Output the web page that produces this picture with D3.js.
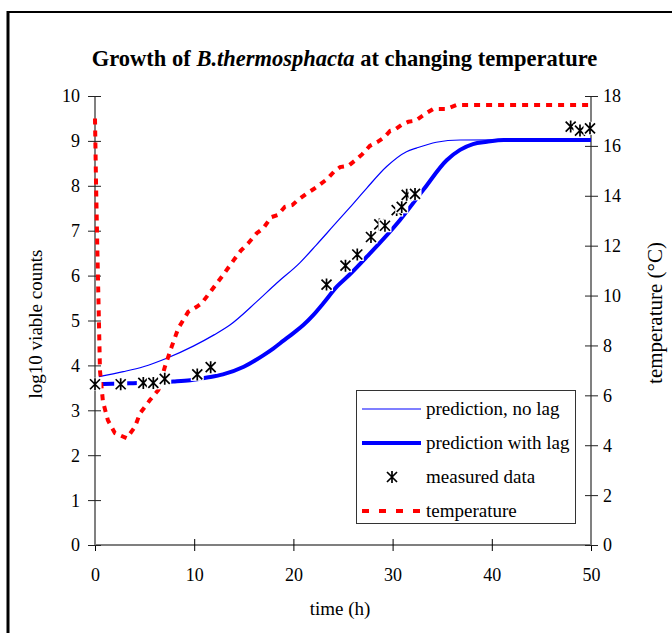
<!DOCTYPE html>
<html>
<head>
<meta charset="utf-8">
<script src="https://cdn.jsdelivr.net/npm/d3@7/dist/d3.min.js"></script>
<style>
  html, body { margin: 0; padding: 0; background: #fff; }
  svg { display: block; font-family: "Liberation Serif", "Times New Roman", serif; }
</style>
</head>
<body>
<svg id="chart" width="672" height="633"></svg>
<script>
// Time (h) and log10 counts, model without lag phase
const noLagTime  = [0.4, 2.85, 4.87, 7.23, 9.91, 12.0, 13.6, 16.3, 18.3, 20.67, 22.3, 24.0, 25.7, 27.4, 29.4, 31.4, 32.4, 34.4, 36.8, 50];
const noLagCount = [3.75, 3.86, 3.97, 4.16, 4.43, 4.68, 4.90, 5.42, 5.83, 6.29, 6.68, 7.10, 7.52, 7.95, 8.43, 8.76, 8.84, 8.97, 9.02, 9.03];

// Model with lag phase
const lagTime  = [0, 3.5, 7.9, 9.6, 11.3, 12.9, 15.0, 17.0, 18.0, 19.0, 20.0, 21.0, 22.0, 23.0, 24.4, 25.7, 27.4, 30.75, 33.1, 35.45, 36.8, 38.1, 39.5, 41.2, 50];
const lagCount = [3.58, 3.60, 3.64, 3.67, 3.73, 3.80, 3.97, 4.23, 4.38, 4.55, 4.72, 4.90, 5.12, 5.38, 5.76, 6.03, 6.42, 7.24, 7.91, 8.57, 8.80, 8.93, 8.98, 9.02, 9.02];

// Measured plate counts
const measTime  = [0, 2.59, 4.87, 5.88, 7.03, 10.31, 11.66, 23.34, 25.25, 26.44, 27.82, 28.66, 29.23, 30.41, 30.92, 31.42, 32.26, 47.95, 48.89, 49.9];
const measCount = [3.58, 3.58, 3.61, 3.61, 3.70, 3.80, 3.96, 5.80, 6.22, 6.47, 6.86, 7.14, 7.11, 7.46, 7.53, 7.80, 7.82, 9.32, 9.23, 9.28];

// Temperature profile (°C)
const tempTime = [0, 0.1, 0.25, 0.4, 0.5, 0.8, 1.3, 2.0, 3.2, 4.03, 4.54, 5.54, 6.38, 7.05, 7.73, 8.4, 9.4, 10.25, 10.75, 11.77, 12.94, 14.0, 14.7, 15.45, 16.3, 16.97, 17.75, 18.42, 19.15, 19.9, 20.57, 21.3, 22.05, 22.7, 23.4, 24.1, 24.7, 25.55, 26.3, 26.95, 27.7, 28.45, 29.16, 29.75, 30.17, 30.9, 31.6, 32.3, 33.27, 34.1, 35.4, 36.46, 49.8, 50];
const tempValue = [17.1, 14.6, 11.6, 8.9, 7.0, 5.75, 5.0, 4.49, 4.28, 4.74, 5.28, 5.81, 6.21, 7.15, 7.95, 8.69, 9.35, 9.55, 9.69, 10.22, 10.84, 11.43, 11.8, 12.1, 12.5, 12.7, 13.14, 13.23, 13.56, 13.63, 13.87, 14.08, 14.27, 14.46, 14.67, 14.97, 15.15, 15.2, 15.44, 15.67, 16.0, 16.15, 16.35, 16.6, 16.64, 16.84, 16.97, 17.01, 17.28, 17.48, 17.48, 17.64, 17.64, 17.75];

const xTicks = [0, 10, 20, 30, 40, 50];
const yLeftTicks = [0, 1, 2, 3, 4, 5, 6, 7, 8, 9, 10];
const yRightTicks = [0, 2, 4, 6, 8, 10, 12, 14, 16, 18];

const legendLabels = ["prediction, no lag", "prediction with lag", "measured data", "temperature"];

const svg = d3.select("#chart");
const x = d3.scaleLinear().domain([0, 50]).range([95, 591]);
const yL = d3.scaleLinear().domain([0, 10]).range([545, 96]);
const yR = d3.scaleLinear().domain([0, 18]).range([545, 96]);

// Outer frame (left and top edges)
svg.append("line").attr("x1", 8).attr("x2", 8).attr("y1", 11).attr("y2", 633)
  .attr("stroke", "#000").attr("stroke-width", 3);
svg.append("line").attr("x1", 7).attr("x2", 672).attr("y1", 12).attr("y2", 12)
  .attr("stroke", "#000").attr("stroke-width", 2);

// Title
const title = svg.append("text").attr("x", 344.5).attr("y", 66)
  .attr("text-anchor", "middle").attr("font-weight", "bold").attr("font-size", 22.5);
title.append("tspan").text("Growth of ");
title.append("tspan").attr("font-style", "italic").text("B.thermosphacta");
title.append("tspan").text(" at changing temperature");

// Axes
const gx = svg.append("g").attr("transform", "translate(0,545)")
  .call(d3.axisBottom(x).tickValues(xTicks).tickSize(6).tickFormat(d3.format("d")));
gx.selectAll(".tick line").attr("y1", -6).attr("y2", 6).attr("stroke", "#000");
gx.selectAll(".tick text").attr("y", 36).attr("dy", 0).attr("font-size", 18)
  .attr("font-family", "Liberation Serif").attr("fill", "#000");

const gl = svg.append("g").attr("transform", "translate(95,0)")
  .call(d3.axisLeft(yL).tickValues(yLeftTicks).tickSize(6).tickFormat(d3.format("d")));
gl.selectAll(".tick line").attr("x1", -7).attr("x2", 6).attr("stroke", "#222");
gl.selectAll(".tick text").attr("x", -15).attr("dy", "0.33em").attr("font-size", 18)
  .attr("font-family", "Liberation Serif").attr("fill", "#000");

const gr = svg.append("g").attr("transform", "translate(591,0)")
  .call(d3.axisRight(yR).tickValues(yRightTicks).tickSize(6).tickFormat(d3.format("d")));
gr.selectAll(".tick line").attr("x1", -6).attr("x2", 7).attr("stroke", "#222");
gr.selectAll(".tick text").attr("x", 12).attr("dy", "0.33em").attr("font-size", 18)
  .attr("font-family", "Liberation Serif").attr("fill", "#000");

// Domain lines without end caps
gl.select(".domain").attr("d", `M0,${yL(10)}V${yL(0)}`).attr("stroke", "#808080").attr("stroke-width", 2);
gr.select(".domain").attr("d", `M0,${yR(18)}V${yR(0)}`).attr("stroke", "#808080").attr("stroke-width", 2);
gx.select(".domain").attr("d", `M${x(0)},0H${x(50)}`).attr("stroke", "#000").attr("stroke-width", 1.2);

// Axis titles
svg.append("text").attr("transform", "translate(42,324) rotate(-90)")
  .attr("text-anchor", "middle").attr("font-size", 19).text("log10 viable counts");
svg.append("text").attr("transform", "translate(662,313) rotate(-90)")
  .attr("text-anchor", "middle").attr("font-size", 21).text("temperature (°C)");
svg.append("text").attr("x", 340).attr("y", 615)
  .attr("text-anchor", "middle").attr("font-size", 19).text("time (h)");

// Series
const lineL = d3.line().x(d => x(d[0])).y(d => yL(d[1])).curve(d3.curveMonotoneX);
const lineR = d3.line().x(d => x(d[0])).y(d => yR(d[1]));

svg.append("path").datum(d3.zip(noLagTime, noLagCount))
  .attr("d", lineL).attr("fill", "none").attr("stroke", "#0000ff").attr("stroke-width", 1.2);
svg.append("path").datum(d3.zip(lagTime, lagCount))
  .attr("d", lineL).attr("fill", "none").attr("stroke", "#0000ff").attr("stroke-width", 4);
svg.append("path").datum(d3.zip(tempTime, tempValue))
  .attr("d", lineR).attr("fill", "none").attr("stroke", "#ff0000").attr("stroke-width", 4)
  .attr("stroke-dasharray", "6,6");

// Star markers with white backing
function star(g) {
  g.append("rect").attr("x", -6.5).attr("y", -6.5).attr("width", 13).attr("height", 13).attr("fill", "#fff");
  g.append("path").attr("d", "M-5,-5L5,5M-5,5L5,-5M0,-6V6")
    .attr("stroke", "#000").attr("stroke-width", 1.7).attr("fill", "none");
}
svg.append("g").selectAll("g").data(d3.zip(measTime, measCount)).join("g")
  .attr("transform", d => `translate(${x(d[0])},${yL(d[1])})`)
  .each(function () { star(d3.select(this)); });

// Legend
const lg = svg.append("g");
lg.append("rect").attr("x", 356.5).attr("y", 390.5).attr("width", 219).attr("height", 133)
  .attr("fill", "#fff").attr("stroke", "#333").attr("stroke-width", 1);
const rowY = [409, 443, 477, 511];
lg.append("line").attr("x1", 362).attr("x2", 421).attr("y1", rowY[0]).attr("y2", rowY[0])
  .attr("stroke", "#0000ff").attr("stroke-width", 1.2);
lg.append("line").attr("x1", 362).attr("x2", 421).attr("y1", rowY[1]).attr("y2", rowY[1])
  .attr("stroke", "#0000ff").attr("stroke-width", 4);
lg.append("g").attr("transform", `translate(392,${rowY[2]})`).call(star);
lg.append("line").attr("x1", 362).attr("x2", 421).attr("y1", rowY[3]).attr("y2", rowY[3])
  .attr("stroke", "#ff0000").attr("stroke-width", 4).attr("stroke-dasharray", "7,10");
lg.selectAll("text.lab").data(legendLabels).join("text").attr("class", "lab")
  .attr("x", 426).attr("y", (d, i) => rowY[i] + 6).attr("font-size", 19).text(d => d);
</script>
</body>
</html>
